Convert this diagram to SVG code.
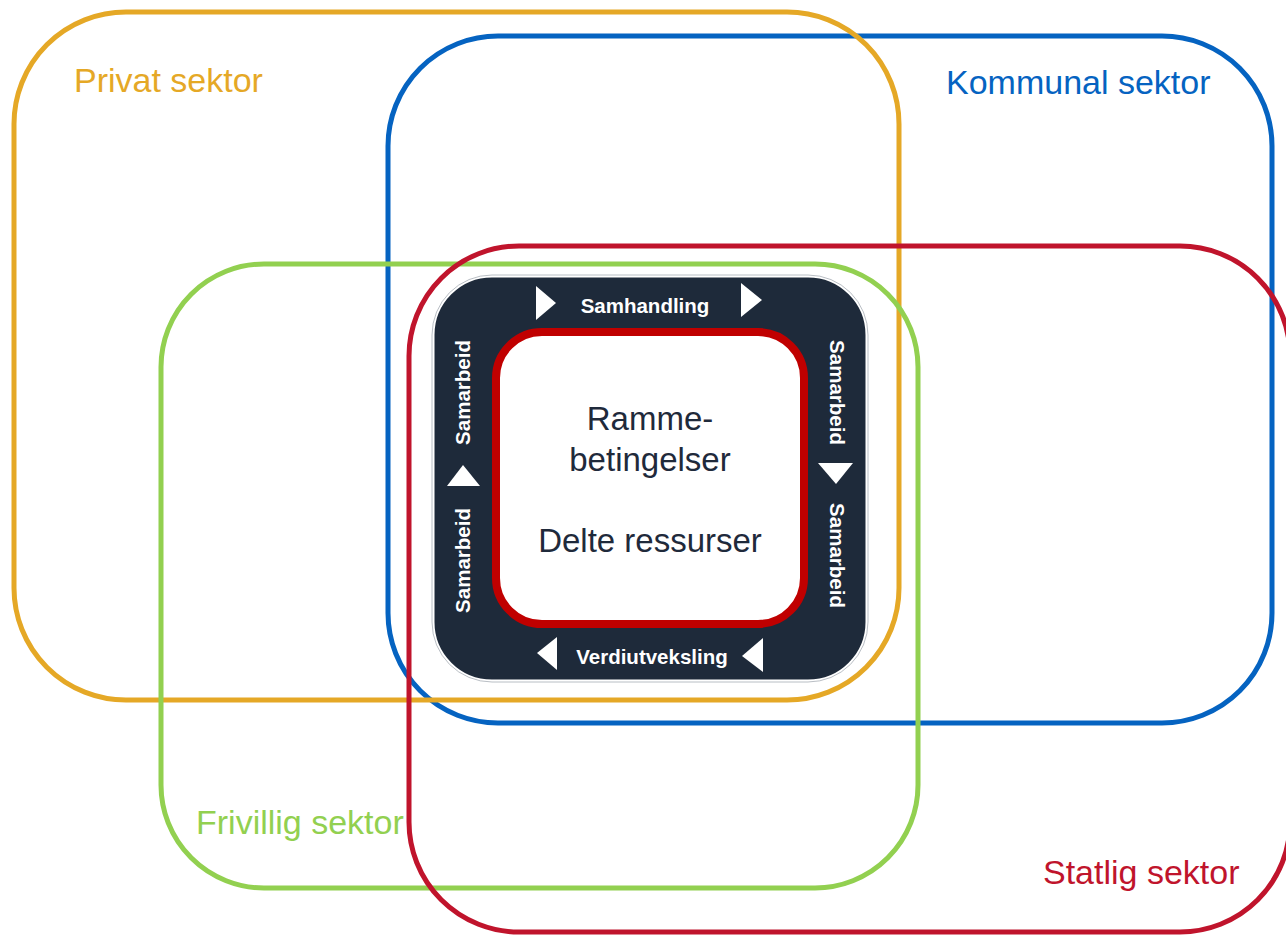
<svg xmlns="http://www.w3.org/2000/svg" width="1286" height="935" viewBox="0 0 1286 935">
<style>
.ring{fill:none;stroke-width:5}
.sect{font-family:"Liberation Sans",Arial,sans-serif;font-size:34px}
.core{font-family:"Liberation Sans",Arial,sans-serif;font-size:33px;fill:#1F2A3B;text-anchor:middle}
.flow{font-family:"Liberation Sans",Arial,sans-serif;font-size:20.5px;font-weight:bold;fill:#FFFFFF;text-anchor:middle}
.tri{fill:#FFFFFF}
</style>
<rect width="1286" height="935" fill="#FFFFFF"/>
<g id="kommunal">
<rect class="ring" x="388" y="36" width="884" height="687" rx="110" stroke="#0563C1"/>
<text class="sect" x="946" y="94" fill="#0563C1">Kommunal sektor</text>
</g>
<g id="privat">
<rect class="ring" x="14" y="12" width="885" height="688" rx="112" stroke="#E5A826"/>
<text class="sect" x="74" y="92" fill="#E5A826">Privat sektor</text>
</g>
<g id="frivillig">
<rect class="ring" x="161" y="264" width="757" height="624" rx="103" stroke="#92D050"/>
<text class="sect" x="196" y="834" fill="#92D050">Frivillig sektor</text>
</g>
<g id="statlig">
<rect class="ring" x="409" y="246" width="881" height="686" rx="110" stroke="#C0142C"/>
<text class="sect" x="1043" y="884" fill="#C0142C">Statlig sektor</text>
</g>
<g id="samspill">
<rect x="432" y="275" width="436" height="407" rx="60" fill="#1E2A3A" stroke="#FFFFFF" stroke-width="5"/>
<rect x="432" y="275" width="436" height="407" rx="60" fill="none" stroke="#8A929C" stroke-width="1" stroke-opacity="0.6"/>
</g>
<g id="kjerne">
<rect x="496" y="332" width="308" height="292" rx="46" fill="#FFFFFF" stroke="#C00000" stroke-width="8"/>
<text class="core" x="650" y="430">Ramme-</text>
<text class="core" x="650" y="471">betingelser</text>
<text class="core" x="650" y="552">Delte ressurser</text>
</g>
<g id="connectors">
<polygon class="tri" points="536,286 556,303 536,320"/>
<polygon class="tri" points="741,283 762,300 741,317"/>
<polygon class="tri" points="818,463 853,463 836,484"/>
<polygon class="tri" points="763,638 763,672 742,656"/>
<polygon class="tri" points="557,637 557,670 537,653"/>
<polygon class="tri" points="447,486 480,486 463,465"/>
<text class="flow" x="645" y="313">Samhandling</text>
<text class="flow" x="652" y="664">Verdiutveksling</text>
<text class="flow" transform="translate(470,392.5) rotate(-90)">Samarbeid</text>
<text class="flow" transform="translate(470,560.5) rotate(-90)">Samarbeid</text>
<text class="flow" transform="translate(830,392.5) rotate(90)">Samarbeid</text>
<text class="flow" transform="translate(830,555.5) rotate(90)">Samarbeid</text>
</g>
</svg>
